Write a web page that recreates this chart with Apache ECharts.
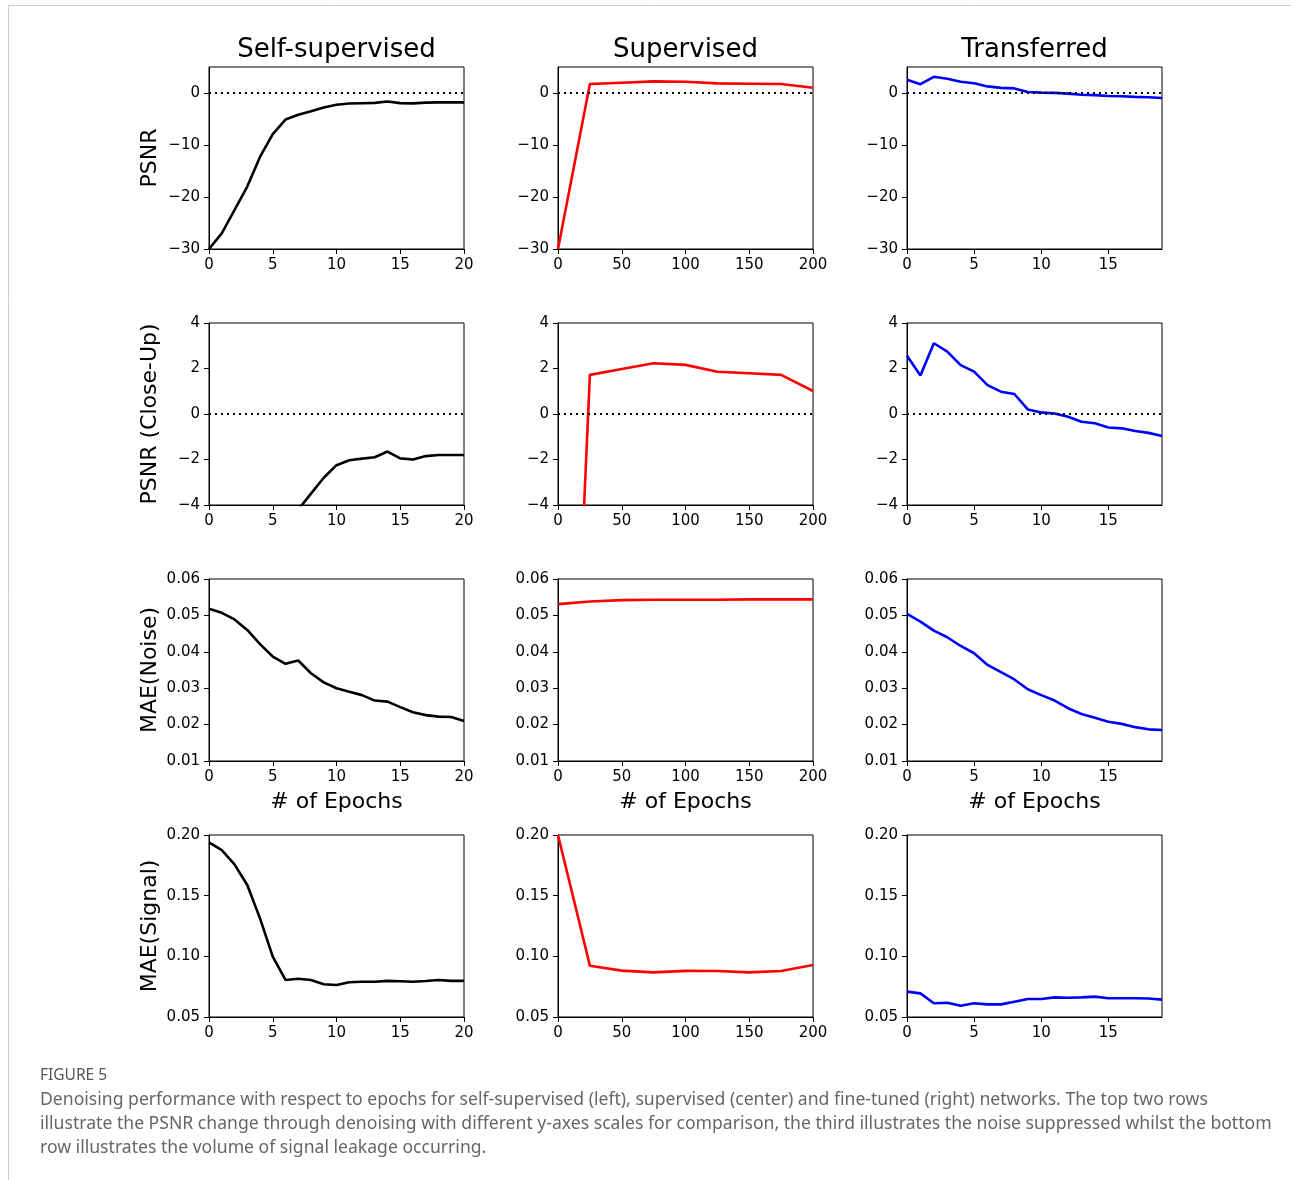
<!DOCTYPE html>
<html>
<head>
<meta charset="utf-8">
<script src="https://cdn.jsdelivr.net/npm/echarts@6/dist/echarts.min.js"></script>
<style>
html,body{margin:0;padding:0;background:#fff;}
#chart{width:1291px;height:1180px;}
</style>
</head>
<body>
<div id="chart"></div>
<script>
// ---- Data ----
const columnTitles = ['Self-supervised', 'Supervised', 'Transferred'];
const rowNames = ['PSNR', 'PSNR (Close-Up)', 'MAE(Noise)', 'MAE(Signal)'];
const xLabelName = '# of Epochs';

const epochsSelf = [0,1,2,3,4,5,6,7,8,9,10,11,12,13,14,15,16,17,18,19,20];
const epochsSup = [0,25,50,75,100,125,150,175,200];
const epochsTrans = [0,1,2,3,4,5,6,7,8,9,10,11,12,13,14,15,16,17,18,19];

const psnrSelf = [-30,-27,-22.5,-18,-12.3,-7.9,-5.1,-4.2,-3.5,-2.8,-2.25,-2.03,-1.96,-1.9,-1.65,-1.95,-2.0,-1.85,-1.8,-1.8,-1.8];
const psnrSup = [-30,1.72,1.98,2.23,2.16,1.86,1.79,1.72,1.01];
const psnrTrans = [2.56,1.69,3.11,2.74,2.15,1.86,1.27,0.98,0.88,0.2,0.07,0.02,-0.12,-0.34,-0.41,-0.59,-0.63,-0.75,-0.83,-0.97];

const noiseSelf = [0.0518,0.0507,0.0489,0.0460,0.0421,0.0387,0.0367,0.0376,0.0341,0.0316,0.0300,0.0290,0.0281,0.0266,0.0263,0.0248,0.0234,0.0226,0.0222,0.0221,0.0210];
const noiseSup = [0.0531,0.0538,0.0542,0.0543,0.0543,0.0543,0.0544,0.0544,0.0544];
const noiseTrans = [0.0504,0.0483,0.0458,0.0440,0.0416,0.0396,0.0364,0.0344,0.0324,0.0297,0.0281,0.0266,0.0245,0.0229,0.0219,0.0208,0.0202,0.0193,0.0187,0.0185];

const signalSelf = [0.194,0.1876,0.1758,0.1588,0.1313,0.0997,0.0805,0.0815,0.0805,0.0770,0.0764,0.0786,0.0790,0.0791,0.0798,0.0795,0.0791,0.0797,0.0805,0.0798,0.0798];
const signalSup = [0.200,0.0923,0.0882,0.0868,0.0880,0.0879,0.0868,0.0879,0.0929];
const signalTrans = [0.0709,0.0695,0.0613,0.0618,0.0593,0.0613,0.0604,0.0604,0.0626,0.0648,0.0648,0.0662,0.0659,0.0662,0.0668,0.0654,0.0654,0.0654,0.0652,0.0643];

const captionTitle = 'FIGURE 5';
const captionLines = [
  'Denoising performance with respect to epochs for self-supervised (left), supervised (center) and fine-tuned (right) networks. The top two rows',
  'illustrate the PSNR change through denoising with different y-axes scales for comparison, the third illustrates the noise suppressed whilst the bottom',
  'row illustrates the volume of signal leakage occurring.'
];

// ---- Layout ----
const colLeft = [209, 558, 907];
const rowTop = [67, 323, 579, 835];
const gw = 255, gh = 182;
const colors = ['#000000', '#ff0000', '#0000ff'];
const xs = [epochsSelf, epochsSup, epochsTrans];
const xMax = [20, 200, 19];
const xInt = [5, 50, 5];
const ys = [
  [psnrSelf, psnrSup, psnrTrans],
  [psnrSelf, psnrSup, psnrTrans],
  [noiseSelf, noiseSup, noiseTrans],
  [signalSelf, signalSup, signalTrans]
];
const yRange = [
  {min:-30, max:5, interval:10, dec:0, hideMax:true},
  {min:-4, max:4, interval:2, dec:0, hideMax:false},
  {min:0.01, max:0.06, interval:0.01, dec:2, hideMax:false},
  {min:0.05, max:0.20, interval:0.05, dec:2, hideMax:false}
];
const FONT = 'DejaVu Sans';

function fmtNum(v, dec) {
  let s = dec ? Number(v).toFixed(dec) : String(Math.round(v));
  return s.replace('-', '\u2212');
}

const grids = [], xAxes = [], yAxes = [], series = [];
let idx = 0;
for (let r = 0; r < 4; r++) {
  for (let c = 0; c < 3; c++) {
    grids.push({left: colLeft[c], top: rowTop[r], width: gw, height: gh,
      show: true, borderColor: '#000', borderWidth: 1, backgroundColor: 'transparent'});
    xAxes.push({
      type: 'value', gridIndex: idx, min: 0, max: xMax[c], interval: xInt[c],
      splitLine: {show: false},
      axisLine: {show: true, onZero: false, lineStyle: {color: '#000', width: 1}},
      axisTick: {show: true, inside: false, length: 5, lineStyle: {color: '#000'}},
      axisLabel: {color: '#000', fontFamily: FONT, fontSize: 15, margin: 9,
        showMaxLabel: c !== 2,
        formatter: v => fmtNum(v, 0)},
      name: r === 2 ? xLabelName : '',
      nameLocation: 'middle', nameGap: 30,
      nameTextStyle: {color: '#000', fontFamily: FONT, fontSize: 22}
    });
    const yr = yRange[r];
    yAxes.push({
      type: 'value', gridIndex: idx, min: yr.min, max: yr.max, interval: yr.interval,
      splitLine: {show: false},
      axisLine: {show: true, onZero: false, lineStyle: {color: '#000', width: 1}},
      axisTick: {show: true, inside: false, length: 5, lineStyle: {color: '#000'}},
      axisLabel: {color: '#000', fontFamily: FONT, fontSize: 15, margin: 9,
        showMaxLabel: !yr.hideMax,
        formatter: v => fmtNum(v, yr.dec)},
      name: c === 0 ? rowNames[r] : '',
      nameLocation: 'middle', nameGap: 48, nameRotate: 90,
      nameTextStyle: {color: '#000', fontFamily: FONT, fontSize: 22}
    });
    const data = xs[c].map((x, i) => [x, ys[r][c][i]]);
    const s = {
      type: 'line', xAxisIndex: idx, yAxisIndex: idx, data: data,
      showSymbol: false, symbol: 'none', clip: true, silent: true,
      lineStyle: {color: colors[c], width: 2.6}, z: 3
    };
    if (r < 2) {
      s.markLine = {silent: true, symbol: 'none', animation: false,
        label: {show: false},
        lineStyle: {color: '#000', type: [2, 4], width: 2},
        data: [{yAxis: 0}]};
    }
    series.push(s);
    idx++;
  }
}

const graphics = [];
const titleCenters = [336.5, 685.5, 1034.5];
columnTitles.forEach((t, i) => {
  graphics.push({type: 'text', x: titleCenters[i], y: 50,
    style: {text: t, fontFamily: FONT, fontSize: 26, fill: '#000', textAlign: 'center', textVerticalAlign: 'middle'}});
});
// frame lines
graphics.push({type: 'line', shape: {x1: 8, y1: 5.5, x2: 1291, y2: 5.5}, style: {stroke: '#d0d0d0', lineWidth: 1}});
graphics.push({type: 'line', shape: {x1: 8.5, y1: 5, x2: 8.5, y2: 1180}, style: {stroke: '#d0d0d0', lineWidth: 1}});
graphics.push({type: 'text', x: 40, y: 1076,
  style: {text: captionTitle, fontFamily: 'Noto Sans', fontSize: 15.5, fill: '#555', textVerticalAlign: 'middle'}});
captionLines.forEach((t, i) => {
  graphics.push({type: 'text', x: 40, y: 1100 + i * 24,
    style: {text: t, fontFamily: 'Noto Sans', fontSize: 17.6, fill: '#666', textVerticalAlign: 'middle'}});
});

const chart = echarts.init(document.getElementById('chart'), null, {renderer: 'canvas'});
chart.setOption({
  animation: false,
  backgroundColor: '#fff',
  grid: grids, xAxis: xAxes, yAxis: yAxes, series: series,
  graphic: graphics
});
</script>
</body>
</html>
